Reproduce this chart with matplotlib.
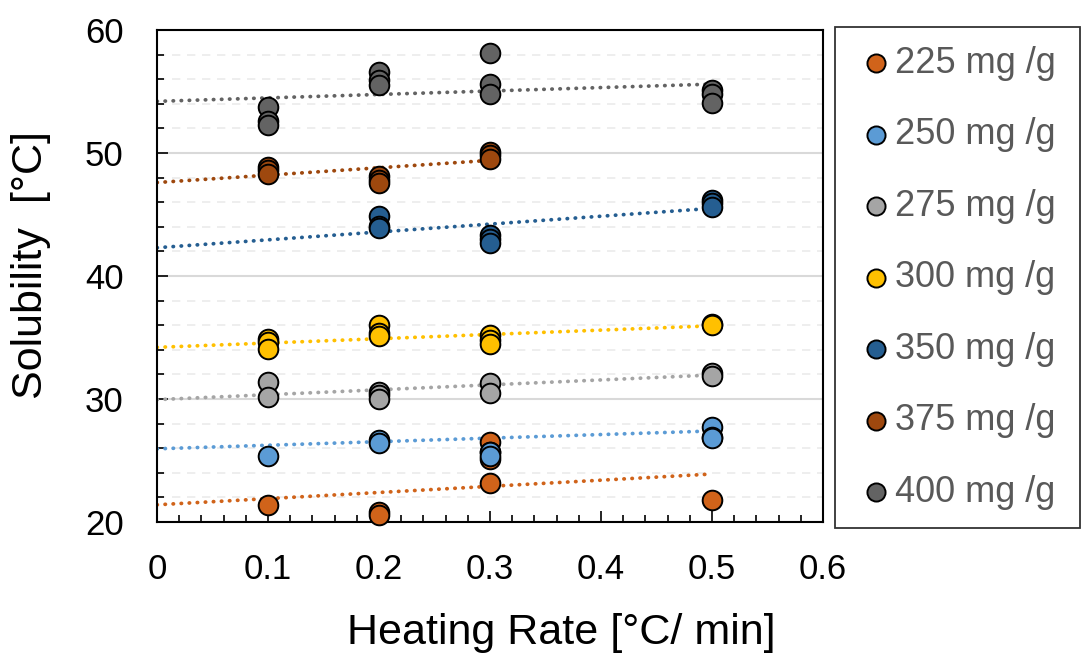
import numpy as np
import matplotlib.pyplot as plt
from matplotlib.ticker import MultipleLocator

plt.rcParams['font.family'] = ['Liberation Sans', 'DejaVu Sans']

LABELS = ["225 mg /g", "250 mg /g", "275 mg /g", "300 mg /g",
          "350 mg /g", "375 mg /g", "400 mg /g"]
COLORS = ["#D0631A", "#5B9BD5", "#A5A5A5", "#FFC000",
          "#255E91", "#9E480E", "#636363"]

# heating rate / solubility points per concentration
X_225 = [0.1, 0.2, 0.2, 0.3, 0.3, 0.3, 0.3, 0.5]
Y_225 = [21.4, 20.8, 20.6, 26.5, 25.7, 25.1, 23.2, 21.8]
X_250 = [0.1, 0.2, 0.2, 0.3, 0.3, 0.5, 0.5, 0.5]
Y_250 = [25.4, 26.7, 26.4, 25.7, 25.4, 27.7, 26.9, 26.8]
X_275 = [0.1, 0.1, 0.2, 0.2, 0.2, 0.3, 0.3, 0.5, 0.5]
Y_275 = [31.4, 30.2, 30.6, 30.3, 30.0, 31.3, 30.5, 32.1, 31.9]
X_300 = [0.1, 0.1, 0.1, 0.2, 0.2, 0.2, 0.3, 0.3, 0.3, 0.5, 0.5]
Y_300 = [34.9, 34.6, 34.1, 36.0, 35.4, 35.1, 35.2, 34.8, 34.5, 36.1, 36.0]
X_350 = [0.2, 0.2, 0.2, 0.3, 0.3, 0.3, 0.5, 0.5, 0.5]
Y_350 = [44.9, 44.1, 43.9, 43.3, 43.0, 42.7, 46.2, 45.9, 45.6]
X_375 = [0.1, 0.1, 0.1, 0.2, 0.2, 0.2, 0.3, 0.3, 0.3]
Y_375 = [48.9, 48.6, 48.3, 48.1, 47.8, 47.6, 50.1, 49.8, 49.5]
X_400 = [0.1, 0.1, 0.1, 0.2, 0.2, 0.2, 0.3, 0.3, 0.3, 0.5, 0.5, 0.5]
Y_400 = [53.7, 52.6, 52.3, 56.6, 55.9, 55.5, 58.1, 55.6, 54.8, 55.1, 54.8, 54.1]

# linear trendlines: value at x=0 and at the end x
TREND_X_END = [0.5, 0.5, 0.5, 0.5, 0.5, 0.3, 0.5]
TREND_Y0 = [21.4, 25.95, 29.95, 34.2, 42.3, 47.6, 54.2]
TREND_Y1 = [23.9, 27.4, 31.95, 35.95, 45.5, 49.4, 55.6]

XS = [X_225, X_250, X_275, X_300, X_350, X_375, X_400]
YS = [Y_225, Y_250, Y_275, Y_300, Y_350, Y_375, Y_400]

W, H = 1082, 653
fig = plt.figure(figsize=(W / 100, H / 100), dpi=100)
ax = fig.add_axes([157 / W, 1 - 522 / H, 666 / W, 492 / H])

for i in range(len(LABELS)):
    ax.plot([0, TREND_X_END[i]], [TREND_Y0[i], TREND_Y1[i]], linestyle=(0, (0.1, 2.05)),
            color=COLORS[i], lw=2.7, dash_capstyle="round", zorder=2)
for i in range(len(LABELS)):
    ax.scatter(XS[i], YS[i], s=200, color=COLORS[i], edgecolor="black",
               linewidth=1.4, zorder=3, clip_on=False)
    # legend proxy
    ax.scatter([], [], s=170, color=COLORS[i], edgecolor="black",
               linewidth=1.4, label=LABELS[i])

ax.set_xlim(0, 0.6)
ax.set_ylim(20, 60)
ax.xaxis.set_minor_locator(MultipleLocator(0.02))
ax.yaxis.set_major_locator(MultipleLocator(10))
ax.yaxis.set_minor_locator(MultipleLocator(2))
ax.set_xticks([0, 0.1, 0.2, 0.3, 0.4, 0.5, 0.6])
ax.set_xticklabels(["0", "0.1", "0.2", "0.3", "0.4", "0.5", "0.6"])

ax.grid(True, which="major", axis="y", color="#D9D9D9", lw=1.5, zorder=0)
ax.grid(True, which="minor", axis="y", color="#EBEBEB", lw=1.2,
        linestyle=(0, (5, 4)), zorder=0)
ax.set_axisbelow(True)

ax.tick_params(which="both", direction="in", labelsize=25, width=1.2,
               top=False, right=False)
ax.tick_params(which="major", length=8)
ax.tick_params(which="minor", length=5)
ax.tick_params(axis="x", which="major", pad=22)
ax.tick_params(axis="y", which="major", pad=24)
for sp in ax.spines.values():
    sp.set_linewidth(1.5)
    sp.set_color("black")

fig.text(561 / W, 1 - 633 / H, "Heating Rate [°C/ min]", fontsize=31,
         ha="center", va="center")
fig.text(31 / W, 1 - 265 / H, "Solubility  [°C]", fontsize=31, rotation=90,
         ha="center", va="center")

leg = fig.legend(loc="upper left",
                 bbox_to_anchor=(835 / W, 1 - 27 / H, 245 / W, 0),
                 mode="expand", borderaxespad=0, frameon=True, fancybox=False,
                 fontsize=26, labelspacing=1.01, handletextpad=-0.08,
                 borderpad=0.52, handlelength=1.22)
leg.get_frame().set_edgecolor("black")
leg.get_frame().set_linewidth(1.3)
for t in leg.get_texts():
    t.set_color("#595959")

fig.savefig("out.png", dpi=100)
